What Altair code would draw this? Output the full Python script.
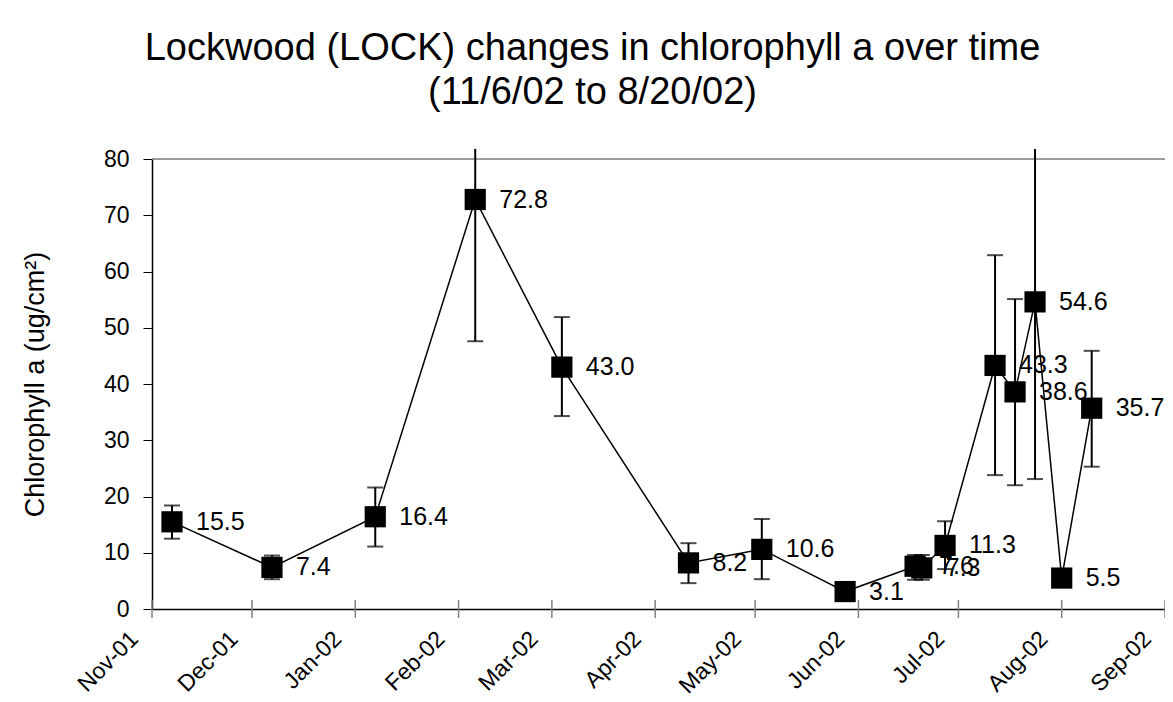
import altair as alt
import pandas as pd

dates = ["2001-11-07", "2001-12-07", "2002-01-07", "2002-02-06", "2002-03-04",
         "2002-04-11", "2002-05-03", "2002-05-28", "2002-06-18", "2002-06-20",
         "2002-06-27", "2002-07-12", "2002-07-18", "2002-07-24", "2002-08-01",
         "2002-08-10"]
chl = [15.5, 7.4, 16.4, 72.8, 43.0, 8.2, 10.6, 3.1, 7.6, 7.3, 11.3, 43.3, 38.6, 54.6, 5.5, 35.7]
err_low = [12.5, 5.3, 11.1, 47.6, 34.3, 4.6, 5.3, 2.4, 5.2, 5.2, 7.1, 23.8, 22.0, 23.1, 4.8, 25.3]
err_high = [18.4, 9.5, 21.6, 81.8, 51.9, 11.7, 16.0, 3.8, 9.6, 9.6, 15.6, 62.9, 55.1, 81.8, 6.2, 45.9]
months = ["2001-11-01", "2001-12-01", "2002-01-01", "2002-02-01", "2002-03-01", "2002-04-01",
          "2002-05-01", "2002-06-01", "2002-07-01", "2002-08-01", "2002-09-01"]

df = pd.DataFrame({"date": dates, "chl": chl, "lo": err_low, "hi": err_high})
df["label"] = [f"{v:.1f}" for v in chl]
df["cap_hi"] = [h if h <= 80 else None for h in err_high]
mdf = pd.DataFrame({"m": months})

FONT = "Liberation Sans"
W, H = 1013, 450

xscale = alt.Scale(domain=["2001-11-01", "2002-09-01"], type="time")
yscale = alt.Scale(domain=[0, 80], nice=False)

base = alt.Chart(df)

x_enc = alt.X("date:T", scale=xscale,
              axis=alt.Axis(values=months, format="%b-%y", labelAngle=-45,
                            labelAlign="right", labelBaseline="middle",
                            labelFontSize=23, labelFont=FONT, labelColor="black",
                            domainColor="black", domainWidth=1.5, ticks=False,
                            grid=False, title=None, labelPadding=26, labelOffset=-18,
                            labelFlush=False, labelOverlap=False, labelBound=False))
y_enc = alt.Y("chl:Q", scale=yscale,
              axis=alt.Axis(values=list(range(0, 81, 10)), labelFontSize=23, labelFont=FONT,
                            labelColor="black", domainColor="black", domainWidth=1.5,
                            tickColor="black", tickSize=9, labelPadding=14, grid=False,
                            title="Chlorophyll a (ug/cm²)", titleFontSize=27,
                            titleFont=FONT, titleFontWeight="normal", titleColor="black",
                            titlePadding=54))

top_line = alt.Chart(pd.DataFrame({"v": [80]})).mark_rule(color="#808080", strokeWidth=1.5).encode(
    y=alt.Y("v:Q", scale=yscale))

xticks = alt.Chart(mdf).mark_rule(color="#808080", strokeWidth=1.5).encode(
    x=alt.X("m:T", scale=xscale), y=alt.value(H - 9), y2=alt.value(H + 9))

err = base.mark_rule(color="black", strokeWidth=2, clip=False).encode(
    x=alt.X("date:T", scale=xscale), y=alt.Y("lo:Q", scale=yscale), y2="hi:Q")
cap_lo = base.mark_tick(color="black", orient="horizontal", size=16, thickness=2).encode(
    x=alt.X("date:T", scale=xscale), y=alt.Y("lo:Q", scale=yscale))
cap_hi = base.transform_filter("datum.cap_hi != null").mark_tick(
    color="black", orient="horizontal", size=16, thickness=2).encode(
    x=alt.X("date:T", scale=xscale), y=alt.Y("cap_hi:Q", scale=yscale))

line = base.mark_line(color="black", strokeWidth=1.5).encode(x=x_enc, y=y_enc)
pts = base.mark_square(color="black", size=450, opacity=1).encode(
    x=alt.X("date:T", scale=xscale), y=alt.Y("chl:Q", scale=yscale))
labels = base.mark_text(align="left", baseline="middle", dx=24, fontSize=25, font=FONT,
                        color="black").encode(
    x=alt.X("date:T", scale=xscale), y=alt.Y("chl:Q", scale=yscale), text="label:N")

chart = alt.layer(line, top_line, xticks, err, cap_lo, cap_hi, pts, labels).properties(
    width=W, height=H,
    autosize=alt.AutoSizeParams(type="none"),
    padding={"left": 144, "top": 151, "right": 0, "bottom": 93},
    title=alt.TitleParams(
        text=["Lockwood (LOCK) changes in chlorophyll a over time", "(11/6/02 to 8/20/02)"],
        fontSize=38, font=FONT, fontWeight="normal", color="black",
        anchor="middle", dx=-66, offset=36, lineHeight=44),
).configure_view(stroke=None).configure(background="white")

chart.save("out.html", embed_options={"renderer": "svg", "actions": False})
